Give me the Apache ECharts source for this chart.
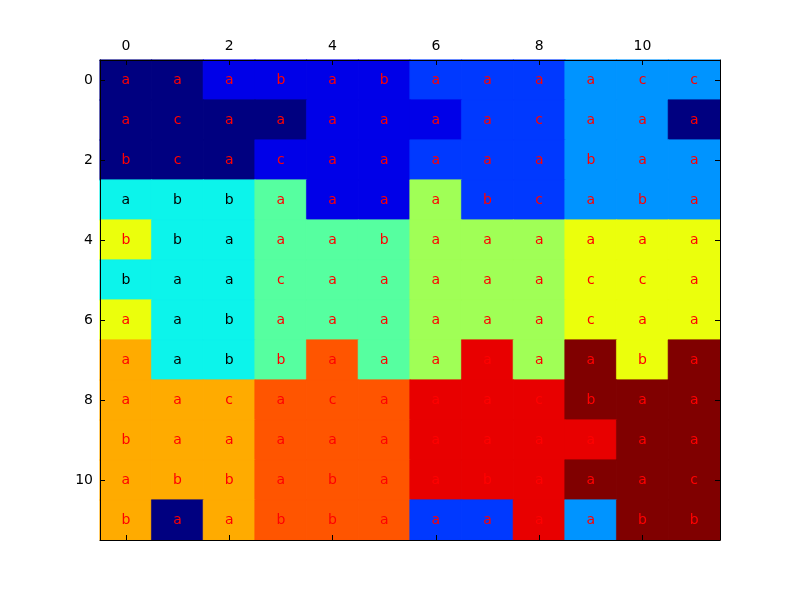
<!DOCTYPE html>
<html>
<head>
<meta charset="utf-8">
<script src="https://cdn.jsdelivr.net/npm/echarts@6/dist/echarts.min.js"></script>
<style>
  body{margin:0;background:#fff}
  #main{width:800px;height:600px}
</style>
</head>
<body>
<div id="main"></div>
<script>
// row / column indices
var rows = [0,1,2,3,4,5,6,7,8,9,10,11];
var cols = [0,1,2,3,4,5,6,7,8,9,10,11];

// cell values (row by row), 0..11
var values = [
  [0,0,1,1,1,1,2,2,2,3,3,3],
  [0,0,0,0,1,1,1,2,2,3,3,0],
  [0,0,0,1,1,1,2,2,2,3,3,3],
  [4,4,4,5,1,1,6,2,2,3,3,3],
  [7,4,4,5,5,5,6,6,6,7,7,7],
  [4,4,4,5,5,5,6,6,6,7,7,7],
  [7,4,4,5,5,5,6,6,6,7,7,7],
  [8,4,4,5,9,5,6,10,6,11,7,11],
  [8,8,8,9,9,9,10,10,10,11,11,11],
  [8,8,8,9,9,9,10,10,10,10,11,11],
  [8,8,8,9,9,9,10,10,10,11,11,11],
  [8,0,8,9,9,9,2,2,10,3,11,11]
];

// text in each cell
var labels = [
  ['a','a','a','b','a','b','a','a','a','a','c','c'],
  ['a','c','a','a','a','a','a','a','c','a','a','a'],
  ['b','c','a','c','a','a','a','a','a','b','a','a'],
  ['a','b','b','a','a','a','a','b','c','a','b','a'],
  ['b','b','a','a','a','b','a','a','a','a','a','a'],
  ['b','a','a','c','a','a','a','a','a','c','c','a'],
  ['a','a','b','a','a','a','a','a','a','c','a','a'],
  ['a','a','b','b','a','a','a','a','a','a','b','a'],
  ['a','a','c','a','c','a','a','a','c','b','a','a'],
  ['b','a','a','a','a','a','a','a','a','a','a','a'],
  ['a','b','b','a','b','a','a','b','a','a','a','c'],
  ['b','a','a','b','b','a','a','a','a','a','b','b']
];

// jet colours for the 12 levels
var jet = ['#000080','#0000e8','#0039ff','#0094ff','#0cf4eb','#56ffa0',
           '#a0ff56','#ebff0c','#ffab00','#ff5500','#e80000','#800000'];

var data = [];
for (var r = 0; r < rows.length; r++) {
  for (var c = 0; c < cols.length; c++) {
    var v = values[r][c];
    data.push({
      value: [c, r, v],
      name: labels[r][c],
      itemStyle: {borderColor: jet[v], borderWidth: 0.6},
      label: {color: v === 4 ? '#000' : '#ff0000'}
    });
  }
}

var pieces = jet.map(function (col, i) { return {value: i, color: col}; });

function catAxis(pos, showLabel, inverse) {
  return {
    type: 'category',
    data: cols.map(String),
    position: pos,
    inverse: !!inverse,
    z: 10,
    axisLine: {show: true, onZero: false, lineStyle: {color: '#000', width: 1}},
    axisTick: {show: true, inside: true, length: 5, interval: 1, alignWithLabel: true,
               lineStyle: {color: '#000', width: 1}},
    axisLabel: {show: showLabel, interval: 1, color: '#000', fontSize: 14,
                fontFamily: 'DejaVu Sans', margin: 7},
    splitLine: {show: false},
    splitArea: {show: false}
  };
}

var chart = echarts.init(document.getElementById('main'));
chart.setOption({
  animation: false,
  backgroundColor: '#fff',
  grid: {left: 100, top: 60, width: 620, height: 480},
  xAxis: [catAxis('top', true), catAxis('bottom', false)],
  yAxis: [catAxis('left', true, true), catAxis('right', false, true)],
  visualMap: {type: 'piecewise', show: false, dimension: 2, pieces: pieces},
  series: [{
    type: 'heatmap',
    xAxisIndex: 0,
    yAxisIndex: 0,
    data: data,
    label: {
      show: true,
      fontSize: 14,
      fontFamily: 'DejaVu Sans',
      formatter: function (p) { return p.name; }
    }
  }]
});
</script>
</body>
</html>
